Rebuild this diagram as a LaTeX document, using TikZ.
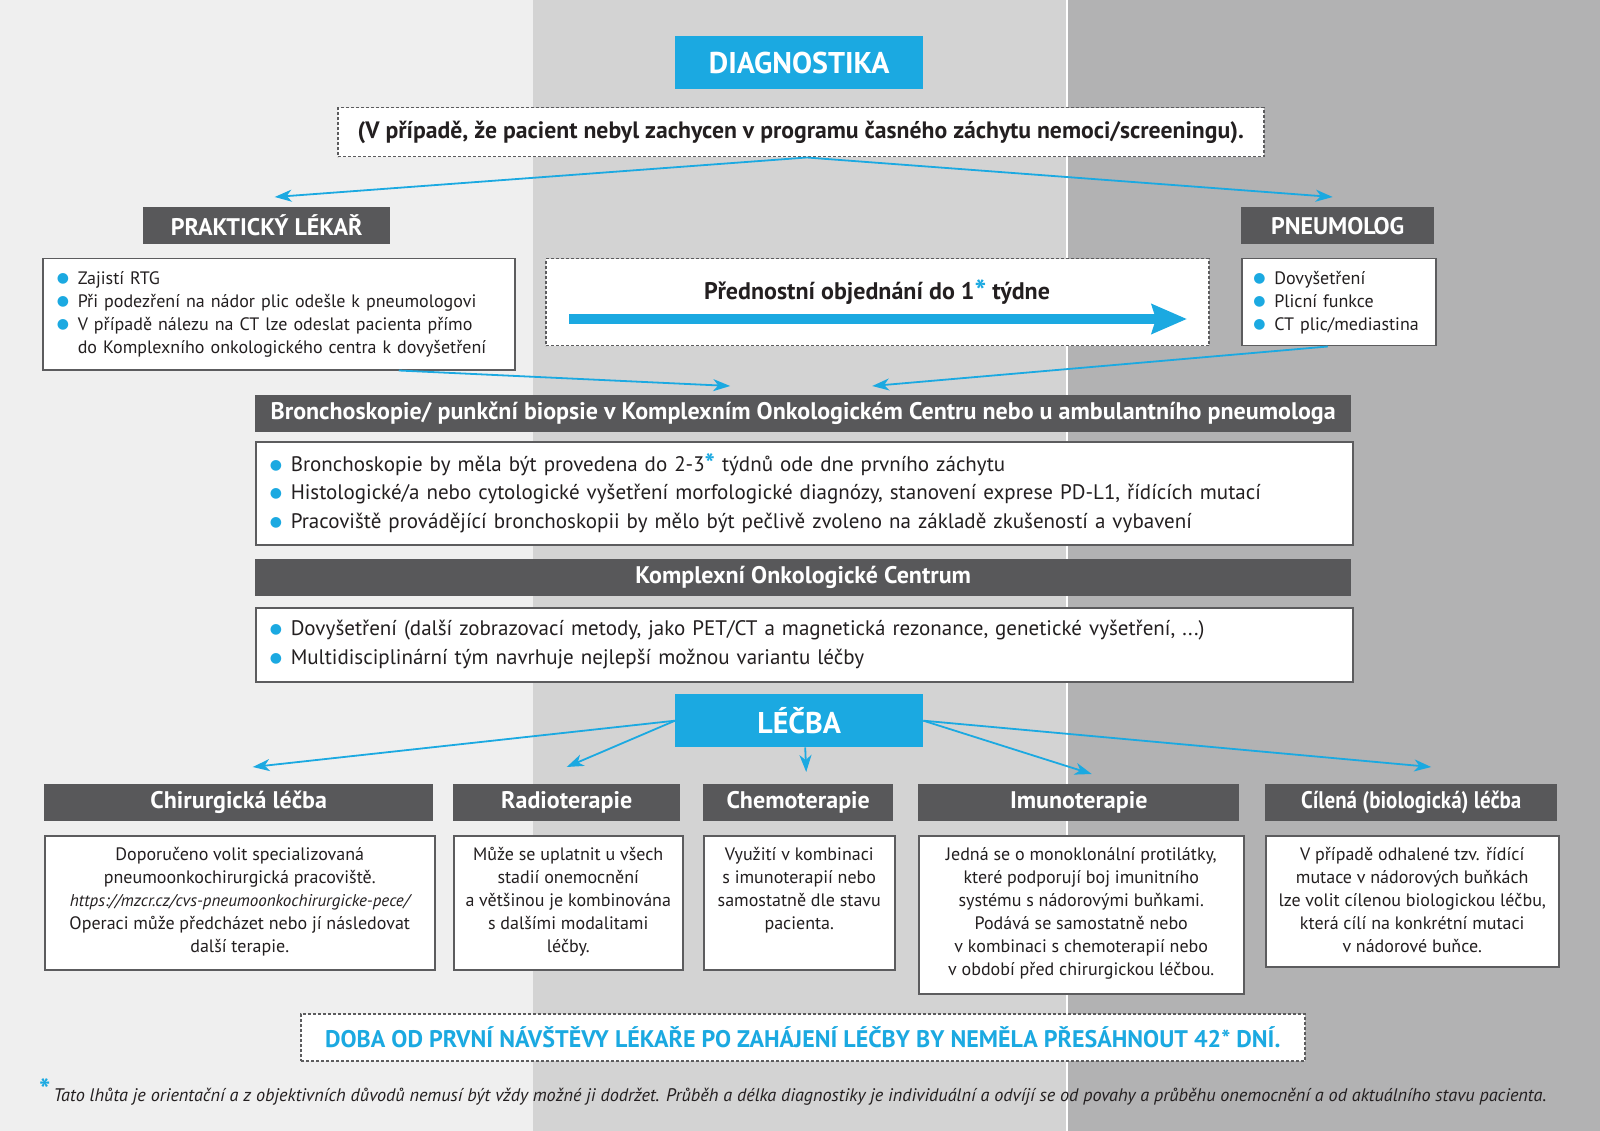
\documentclass[tikz,border=0pt]{standalone}
\usepackage{fontspec}
\setmainfont{PT Sans}
\newfontfamily\symfont{DejaVu Sans}
\usetikzlibrary{arrows.meta,positioning}

\definecolor{cyanb}{HTML}{1BA9E1}
\definecolor{headgray}{HTML}{58585A}
\definecolor{bandA}{HTML}{EFEFEF}
\definecolor{bandB}{HTML}{D3D3D3}
\definecolor{bandC}{HTML}{B2B2B3}
\definecolor{txt}{HTML}{231F20}
\definecolor{rimgray}{HTML}{5C5C5E}

\newcommand{\fsz}[2]{\fontsize{#1}{#2}\selectfont}
\newcommand{\bul}{\makebox[21pt][l]{\textcolor{cyanb}{\raisebox{.1em}{\symfont\fsz{14}{12}●}}}}
\newcommand{\bluestar}{\textcolor{cyanb}{\bfseries\raisebox{-.12em}{\scalebox{1.3}{*}}}}
\newcommand{\topbox}[3]{\begin{minipage}[c][#2][t]{#1}\centering\vspace*{3pt}#3\end{minipage}}

\begin{document}
\begin{tikzpicture}[x=1pt,y=-1pt,>={Stealth[length=17pt,width=12pt,inset=5pt]},
    every node/.style={text=txt},
    bluehead/.style={fill=cyanb,text=white,font=\bfseries\fsz{30}{34},
      minimum width=248pt,minimum height=53pt,inner sep=0pt,anchor=north west},
    head/.style={fill=headgray,text=white,font=\bfseries\fsz{24}{28},
      minimum height=37pt,inner sep=0pt,anchor=north west},
    wbox/.style={draw=rimgray,line width=1.5pt,fill=white,inner sep=0pt,anchor=north west},
    dbox/.style={wbox,dash pattern=on 3pt off 2pt},
    list/.style={wbox,align=left,inner xsep=14pt,font=\fsz{18}{23}},
    tbox/.style={wbox,inner xsep=6pt,inner ysep=9pt,font=\fsz{18}{23}},
    link/.style={cyanb,line width=1.8pt,->}]

  \useasboundingbox (0,0) rectangle (1600,1131);
  % background bands
  \fill[bandA] (0,0) rectangle (533,1131);
  \fill[bandB] (533,0) rectangle (1067,1131);
  \fill[bandC] (1067,0) rectangle (1600,1131);
  \draw[white,line width=1.2pt] (1067,0) -- (1067,1131);

  % diagnostika
  \node[bluehead] (diag) at (675,36) {DIAGNOSTIKA};
  \node[dbox,minimum width=926pt,minimum height=49pt,font=\bfseries\fsz{23.7}{27}]
    (screen) at (337,107)
    {(V případě, že pacient nebyl zachycen v programu časného záchytu nemoci/screeningu).};

  \node[head,minimum width=247pt] (prakt) at (143,207) {PRAKTICKÝ LÉKAŘ};
  \node[head,minimum width=193pt] (pneu) at (1241,207) {PNEUMOLOG};

  \node[list,minimum height=111pt,text width=444pt] (praktbox) at (42,258)
    {\bul Zajistí RTG\\
     \bul Při podezření na nádor plic odešle k pneumologovi\\
     \bul V případě nálezu na CT lze odeslat pacienta přímo\\
     \hspace*{21pt}do Komplexního onkologického centra k dovyšetření};
  \node[list,inner xsep=11.5pt,minimum height=87pt,text width=171pt] (pneubox) at (1241,258)
    {\bul Dovyšetření\\
     \bul Plicní funkce\\
     \bul CT plic/mediastina};

  % prednostni objednani
  \node[dbox,minimum width=663pt,minimum height=87pt] (prio) at (545,258) {};
  \node[font=\bfseries\fsz{24}{28}] (priotxt) at (877,292)
    {Přednostní objednání do 1\bluestar{} týdne};
  \coordinate (pa) at (569,319);
  \coordinate (pb) at (1187,319);
  \draw[cyanb,line width=10pt,-{Stealth[length=35pt,width=29pt,inset=4pt]}] (pa) -- (pb);

  % bronchoskopie
  \node[head,minimum width=1096pt] (bronch) at (255,395)
    {Bronchoskopie/ punkční biopsie v Komplexním Onkologickém Centru nebo u ambulantního pneumologa};
  \node[list,font=\fsz{21}{28.5},minimum height=103pt,text width=1069pt] (bronchbox) at (255,441)
    {\bul Bronchoskopie by měla být provedena do 2-3\bluestar{} týdnů ode dne prvního záchytu\\
     \bul Histologické/a nebo cytologické vyšetření morfologické diagnózy, stanovení exprese PD-L1, řídících mutací\\
     \bul Pracoviště provádějící bronchoskopii by mělo být pečlivě zvoleno na základě zkušeností a vybavení};

  \node[head,minimum width=1096pt] (koc) at (255,559) {Komplexní Onkologické Centrum};
  \node[list,font=\fsz{21}{28.5},minimum height=74pt,text width=1069pt] (kocbox) at (255,607)
    {\bul Dovyšetření (další zobrazovací metody, jako PET/CT a magnetická rezonance, genetické vyšetření, ...)\\
     \bul Multidisciplinární tým navrhuje nejlepší možnou variantu léčby};

  % lecba
  \node[bluehead] (lecba) at (675,694) {LÉČBA};

  \node[head,minimum width=389pt] (chir) at (44,784) {Chirurgická léčba};
  \node[head,minimum width=227pt] (radio) at (453,784) {Radioterapie};
  \node[head,minimum width=190pt] (chemo) at (703,784) {Chemoterapie};
  \node[head,minimum width=321pt] (imuno) at (918,784) {Imunoterapie};
  \node[head,minimum width=292pt] (cil) at (1265,784) {\scalebox{0.875}[1]{Cílená (biologická) léčba}};

  \node[tbox] (chirbox) at (44,835) {\topbox{378pt}{116pt}{%
    Doporučeno volit specializovaná\\
    pneumoonkochirurgická pracoviště.\\
    {\fsz{17}{23}\itshape https://mzcr.cz/cvs-pneumoonkochirurgicke-pece/}\\
    Operaci může předcházet nebo jí následovat\\
    další terapie.}};
  \node[tbox] (radiobox) at (453,835) {\topbox{217pt}{116pt}{%
    Může se uplatnit u všech\\
    stadií onemocnění\\
    a většinou je kombinována\\
    s dalšími modalitami\\
    léčby.}};
  \node[tbox] (chemobox) at (703,835) {\topbox{179pt}{116pt}{%
    Využití v kombinaci\\
    s imunoterapií nebo\\
    samostatně dle stavu\\
    pacienta.}};
  \node[tbox] (imunobox) at (918,835) {\topbox{313pt}{140pt}{%
    Jedná se o monoklonální protilátky,\\
    které podporují boj imunitního\\
    systému s nádorovými buňkami.\\
    Podává se samostatně nebo\\
    v kombinaci s chemoterapií nebo\\
    v období před chirurgickou léčbou.}};
  \node[tbox] (cilbox) at (1265,835) {\topbox{281pt}{113pt}{%
    V případě odhalené tzv. řídící\\
    mutace v nádorových buňkách\\
    lze volit cílenou biologickou léčbu,\\
    která cílí na konkrétní mutaci\\
    v nádorové buňce.}};

  % doba
  \node[dbox,minimum width=1004pt,minimum height=47pt,text=cyanb,font=\bfseries\fsz{24}{28}]
    (doba) at (300,1013)
    {DOBA OD PRVNÍ NÁVŠTĚVY LÉKAŘE PO ZAHÁJENÍ LÉČBY BY NEMĚLA PŘESÁHNOUT 42* DNÍ.};
  \node[anchor=base west,inner sep=0pt,font=\itshape\fsz{18.2}{22}] (note) at (39,1101)
    {\textcolor{cyanb}{\upshape\bfseries\raisebox{.1ex}{\fsz{30}{30}*}}\,Tato lhůta je orientační a z objektivních důvodů nemusí být vždy možné ji dodržet. Průběh a délka diagnostiky je individuální a odvíjí se od povahy a průběhu onemocnění a od aktuálního stavu pacienta.};

  % connectors
  \path[link] ([xshift=6pt]screen.south) edge ([xshift=8pt,yshift=10pt]prakt.north)
              ([xshift=6pt]screen.south) edge ([xshift=-5pt,yshift=10pt]pneu.north)
              ([xshift=120pt]praktbox.south) edge ([xshift=-73pt,yshift=9pt]bronch.north)
              ([xshift=-11pt]pneubox.south) edge ([xshift=69pt,yshift=9pt]bronch.north)
              (lecba.west) edge ([xshift=14pt,yshift=17pt]chir.north)
              (lecba.west) edge ([yshift=17pt]radio.north)
              ([xshift=6pt]lecba.south) edge ([xshift=8pt,yshift=12pt]chemo.north)
              (lecba.east) edge ([xshift=13pt,yshift=10pt]imuno.north)
              (lecba.east) edge ([xshift=20pt,yshift=17pt]cil.north);
\end{tikzpicture}
\end{document}
